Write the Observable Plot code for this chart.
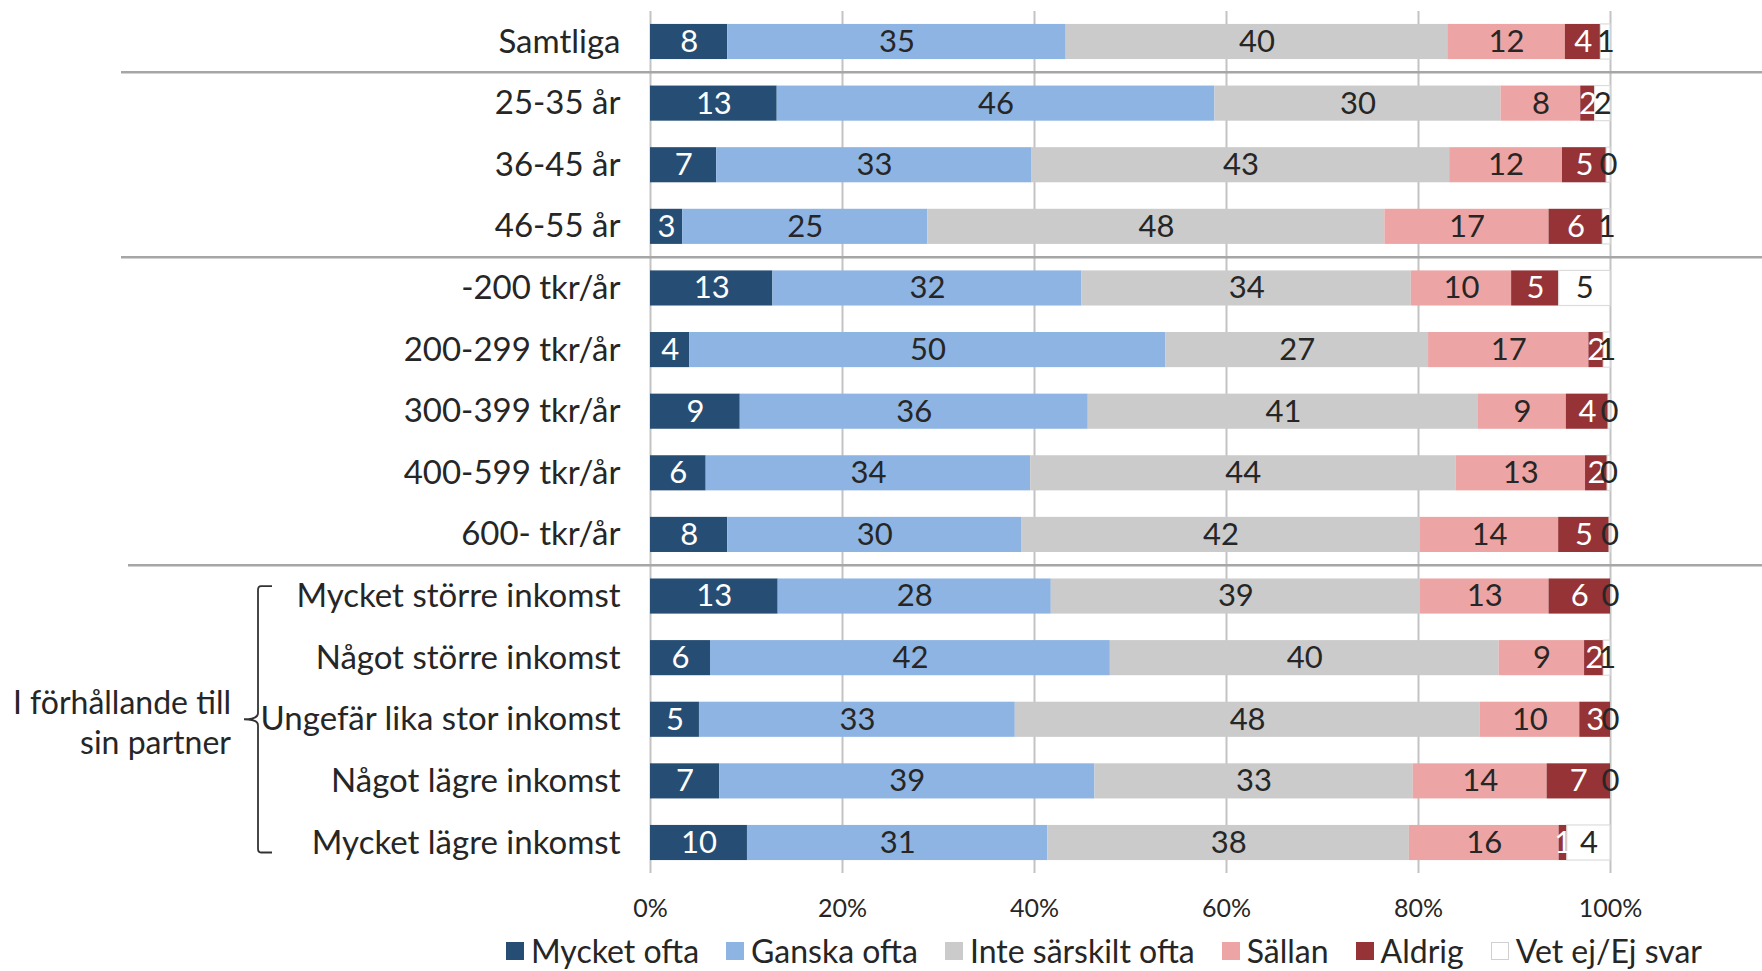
<!DOCTYPE html>
<html><head><meta charset="utf-8">
<script src="https://cdn.jsdelivr.net/npm/d3@7"></script>
<script src="https://cdn.jsdelivr.net/npm/@observablehq/plot@0.6"></script>
<style>
html,body{margin:0;padding:0;background:#fff;}
body{font-family:Lato, "Noto Sans", sans-serif;color:#262626;width:1762px;}
#legend{display:flex;align-items:center;height:46px;padding-left:506px;font-size:32px;line-height:46px;}
#legend .item{display:flex;align-items:center;margin-right:27px;}
#legend .sw{width:18px;height:18px;margin-right:7px;box-sizing:border-box;}
</style></head><body>
<div id="chart"></div>
<div id="legend"></div>
<script>
const categories = ["Samtliga","25-35 år","36-45 år","46-55 år","-200 tkr/år","200-299 tkr/år","300-399 tkr/år","400-599 tkr/år","600- tkr/år","Mycket större inkomst","Något större inkomst","Ungefär lika stor inkomst","Något lägre inkomst","Mycket lägre inkomst"];
const series = ["Mycket ofta","Ganska ofta","Inte särskilt ofta","Sällan","Aldrig","Vet ej/Ej svar"];
// printed (rounded) labels
const mycketOfta = [8,13,7,3,13,4,9,6,8,13,6,5,7,10];
const ganskaOfta = [35,46,33,25,32,50,36,34,30,28,42,33,39,31];
const inteSarskiltOfta = [40,30,43,48,34,27,41,44,42,39,40,48,33,38];
const sallan = [12,8,12,17,10,17,9,13,14,13,9,10,14,16];
const aldrig = [4,2,5,6,5,2,4,2,5,6,2,3,7,1];
const vetEj = [1,2,0,1,5,1,0,0,0,0,1,0,0,4];
// segment shares (unrounded estimates)
const mycketOftaShare = [8.05,13.2,6.9,3.35,12.75,4.1,9.35,5.8,8.05,13.3,6.25,5.1,7.2,10.1];
const ganskaOftaShare = [35.25,45.6,32.85,25.55,32.2,49.6,36.25,33.8,30.6,28.45,41.65,32.9,39.1,31.3];
const inteSarskiltOftaShare = [39.75,29.8,43.5,47.6,34.3,27.35,40.65,44.3,41.55,38.45,40.5,48.4,33.15,37.65];
const sallanShare = [12.25,8.3,11.75,17.1,10.45,16.7,9.15,13.5,14.4,13.4,8.9,10.4,13.95,15.6];
const aldrigShare = [3.7,1.5,4.6,5.6,4.95,1.55,4.4,2.3,5.3,6.4,2.0,3.2,6.6,0.85];
const vetEjShare = [1.0,1.6,0.4,0.8,5.35,0.7,0.2,0.3,0.1,0,0.7,0,0,4.5];

const colors = ["#264e74","#8db4e2","#cbcbcb","#eca4a4","#953336","#ffffff"];
const xTicks = [0,0.2,0.4,0.6,0.8,1];
const separatorsAfter = ["Samtliga","46-55 år","600- tkr/år"];
const groupLabel = ["I förhållande till","sin partner"];
const groupFirst = "Mycket större inkomst", groupMid = "Ungefär lika stor inkomst", groupLast = "Mycket lägre inkomst";
const whiteText = ["Mycket ofta","Aldrig"];

const labelValues = [mycketOfta,ganskaOfta,inteSarskiltOfta,sallan,aldrig,vetEj];
const shareValues = [mycketOftaShare,ganskaOftaShare,inteSarskiltOftaShare,sallanShare,aldrigShare,vetEjShare];
const rows = [];
categories.forEach((c,i)=>series.forEach((s,j)=>rows.push({cat:c, series:s, share:shareValues[j][i], label:labelValues[j][i]})));

const W = 1762, H = 928;
const stackOpts = {x:"share", y:"cat", z:"series", order: series, offset:"normalize"};
const chart = Plot.plot({
  width: W, height: H,
  marginLeft: 650, marginRight: W-1610, marginTop: 11, marginBottom: H-873,
  style: {fontFamily: "Lato, 'Noto Sans', sans-serif", fontSize: "30px", color: "#262626", background: "white", overflow: "visible"},
  x: {domain:[0,1], label:null},
  y: {domain: categories, label:null, paddingInner:0.43, paddingOuter:0.21, round:false},
  color: {domain: series, range: colors},
  marks: [
    Plot.ruleX(xTicks, {stroke:"#c3c3c3", strokeWidth:2}),
    Plot.barX(rows, Plot.stackX({...stackOpts, fill:"series", stroke: d => d.series === "Vet ej/Ej svar" ? "#dcdcdc" : "none", strokeWidth:1.2})),
    Plot.text(rows, Plot.stackX({...stackOpts, text: d => whiteText.includes(d.series) ? String(d.label) : null, fill:"white", fontSize:31})),
    Plot.text(rows, Plot.stackX({...stackOpts, text: d => whiteText.includes(d.series) ? null : String(d.label), fill:"#262626", fontSize:31})),
    Plot.axisX({ticks: xTicks, tickFormat: d3.format(".0%"), tickSize:0, tickPadding:26, fontSize:25, label:null}),
    Plot.axisY({tickSize:0, tickPadding:30, fontSize:33, label:null})
  ]
});
document.getElementById("chart").appendChild(chart);

// separators, brace and group label placed through the y scale
const y = chart.scale("y");
const bw = y.bandwidth, step = y.step;
const cy = c => y.apply(c) + bw/2;
const svg = d3.select(chart);
separatorsAfter.forEach((c,i)=>{
  const yy = cy(c) + step/2;
  svg.append("line").attr("x1", i===2 ? 128 : 121).attr("x2", W).attr("y1", yy).attr("y2", yy)
    .attr("stroke","#a6a6a6").attr("stroke-width",2.5);
});
const y0 = cy(groupFirst) - 10, y1 = cy(groupLast) + 10, ym = cy(groupMid);
const bx = 258, br = 272;
svg.append("path").attr("fill","none").attr("stroke","#333").attr("stroke-width",1.8)
  .attr("d", `M${br},${y0} L${bx+3},${y0} Q${bx},${y0} ${bx},${y0+4} L${bx},${ym-6} Q${bx},${ym} ${bx-14},${ym} Q${bx},${ym} ${bx},${ym+6} L${bx},${y1-4} Q${bx},${y1} ${bx+3},${y1} L${br},${y1}`);
const gt = svg.append("text").attr("text-anchor","end").attr("font-size",32).attr("fill","#262626")
  .attr("font-family","Lato, 'Noto Sans', sans-serif");
groupLabel.forEach((t,i)=>gt.append("tspan").attr("x",231).attr("y", ym + 4 - 20 + i*40).attr("dy","0.35em").text(t));

// legend
const lg = d3.select("#legend");
series.forEach((s,i)=>{
  const it = lg.append("div").attr("class","item");
  it.append("div").attr("class","sw").style("background",colors[i]).style("border", i===5 ? "1px solid #d0d0d0" : "none");
  it.append("span").text(s);
});
</script>
</body></html>
